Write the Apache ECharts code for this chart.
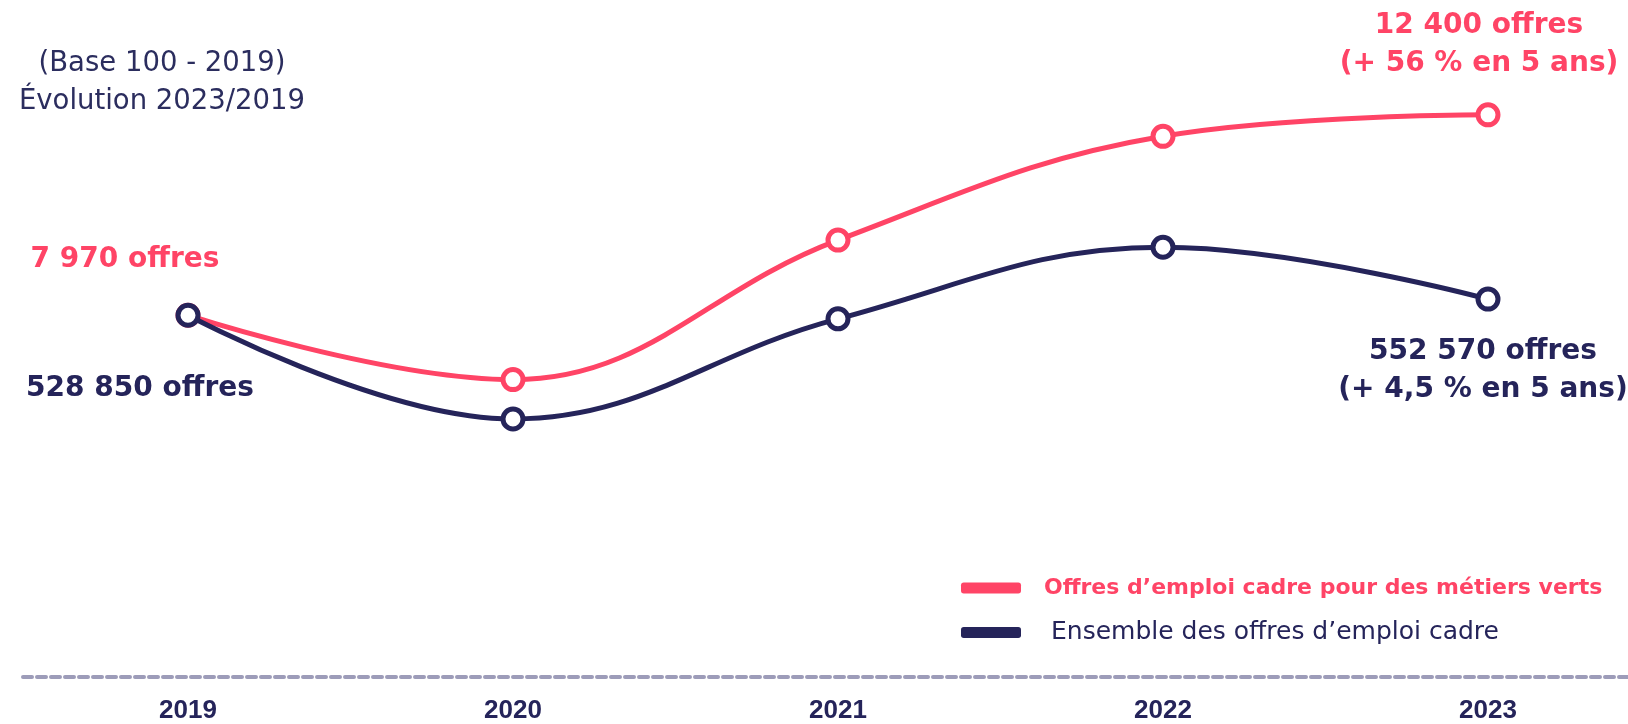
<!DOCTYPE html>
<html>
<head>
<meta charset="utf-8">
<script src="https://cdn.jsdelivr.net/npm/echarts@6/dist/echarts.min.js"></script>
<style>
  html, body { margin: 0; padding: 0; background: #ffffff; }
  #chart { width: 1628px; height: 724px; }
</style>
</head>
<body>
<div id="chart"></div>
<script>
// ---- Data (base 100 = 2019) ----
const years = ['2019', '2020', '2021', '2022', '2023'];
const greenJobsIndex = [100, 82, 121, 150, 156];
const allJobsIndex = [100, 71, 99, 119, 104.5];
const seriesNames = ['Offres d\u2019emploi cadre pour des métiers verts', 'Ensemble des offres d\u2019emploi cadre'];
const greenStartLabel = '7 970 offres';
const greenEndLabel = '12 400 offres\n(+ 56 % en 5 ans)';
const allStartLabel = '528 850 offres';
const allEndLabel = '552 570 offres\n(+ 4,5 % en 5 ans)';
const titleText = '(Base 100 - 2019)\nÉvolution 2023/2019';

const PINK = '#ff4466';
const NAVY = '#25245a';
const annotFont = { fontFamily: 'DejaVu Sans', fontWeight: 'bold', fontSize: 28, lineHeight: 38 };

function buildData(values, color, startLabel, startOffset, endLabel, endOffset) {
  return values.map((v, i) => {
    const item = { value: v };
    if (i === 0 || i === values.length - 1) {
      const isStart = i === 0;
      item.label = Object.assign({
        show: true,
        position: 'inside',
        align: 'center',
        verticalAlign: 'middle',
        color: color,
        formatter: isStart ? startLabel : endLabel,
        offset: isStart ? startOffset : endOffset
      }, annotFont);
    }
    return item;
  });
}

const chart = echarts.init(document.getElementById('chart'), null, { renderer: 'canvas' });
chart.setOption({
  backgroundColor: '#ffffff',
  animation: false,
  title: {
    text: titleText,
    left: 162,
    top: 45,
    textAlign: 'center',
    padding: 0,
    textStyle: {
      fontFamily: 'DejaVu Sans',
      fontWeight: 'normal',
      fontSize: 27.5,
      lineHeight: 38,
      color: '#2b2d5e'
    }
  },
  legend: {
    orient: 'vertical',
    left: 956,
    top: 567,
    itemWidth: 60,
    itemHeight: 11,
    itemGap: 14,
    icon: 'roundRect',
    selectedMode: false,
    data: [
      {
        name: seriesNames[0],
        itemStyle: { color: PINK, borderWidth: 0 },
        textStyle: { color: PINK, fontFamily: 'DejaVu Sans', fontWeight: 'bold', fontSize: 22, lineHeight: 26, padding: [0, 0, 6, 18] }
      },
      {
        name: seriesNames[1],
        itemStyle: { color: NAVY, borderWidth: 0 },
        textStyle: { color: NAVY, fontFamily: 'DejaVu Sans', fontWeight: 'normal', fontSize: 25, lineHeight: 26, padding: [3, 0, 0, 25] }
      }
    ]
  },
  grid: [
    { left: 188, right: 140, top: 29, bottom: 47 },
    { left: 23, right: 0, top: 29, bottom: 47 }
  ],
  xAxis: [
    {
      type: 'category',
      gridIndex: 0,
      data: years,
      boundaryGap: false,
      axisLine: { show: false },
      axisTick: { show: false },
      splitLine: { show: false },
      axisLabel: {
        margin: 25,
        color: NAVY,
        fontFamily: 'Liberation Sans',
        fontWeight: 'bold',
        fontSize: 26,
        lineHeight: 26
      }
    },
    {
      type: 'category',
      gridIndex: 1,
      data: years,
      boundaryGap: false,
      axisLine: { show: true, lineStyle: { color: '#9d9cb9', width: 4, type: [9, 5] } },
      axisTick: { show: false },
      axisLabel: { show: false },
      splitLine: { show: false }
    }
  ],
  yAxis: [
    { type: 'value', gridIndex: 0, min: 0, max: 180, show: false },
    { type: 'value', gridIndex: 1, min: 0, max: 1, show: false }
  ],
  series: [
    {
      name: seriesNames[0],
      type: 'line',
      xAxisIndex: 0,
      yAxisIndex: 0,
      smooth: 0.4,
      symbol: 'circle',
      symbolSize: 20,
      z: 2,
      lineStyle: { color: PINK, width: 5 },
      itemStyle: { color: '#ffffff', borderColor: PINK, borderWidth: 5 },
      data: buildData(greenJobsIndex, PINK, greenStartLabel, [-63, -56], greenEndLabel, [-9, -70])
    },
    {
      name: seriesNames[1],
      type: 'line',
      xAxisIndex: 0,
      yAxisIndex: 0,
      smooth: 0.4,
      symbol: 'circle',
      symbolSize: 20,
      z: 3,
      lineStyle: { color: NAVY, width: 5 },
      itemStyle: { color: '#ffffff', borderColor: NAVY, borderWidth: 5 },
      data: buildData(allJobsIndex, NAVY, allStartLabel, [-48, 73], allEndLabel, [-5, 72])
    }
  ]
});
</script>
</body>
</html>
